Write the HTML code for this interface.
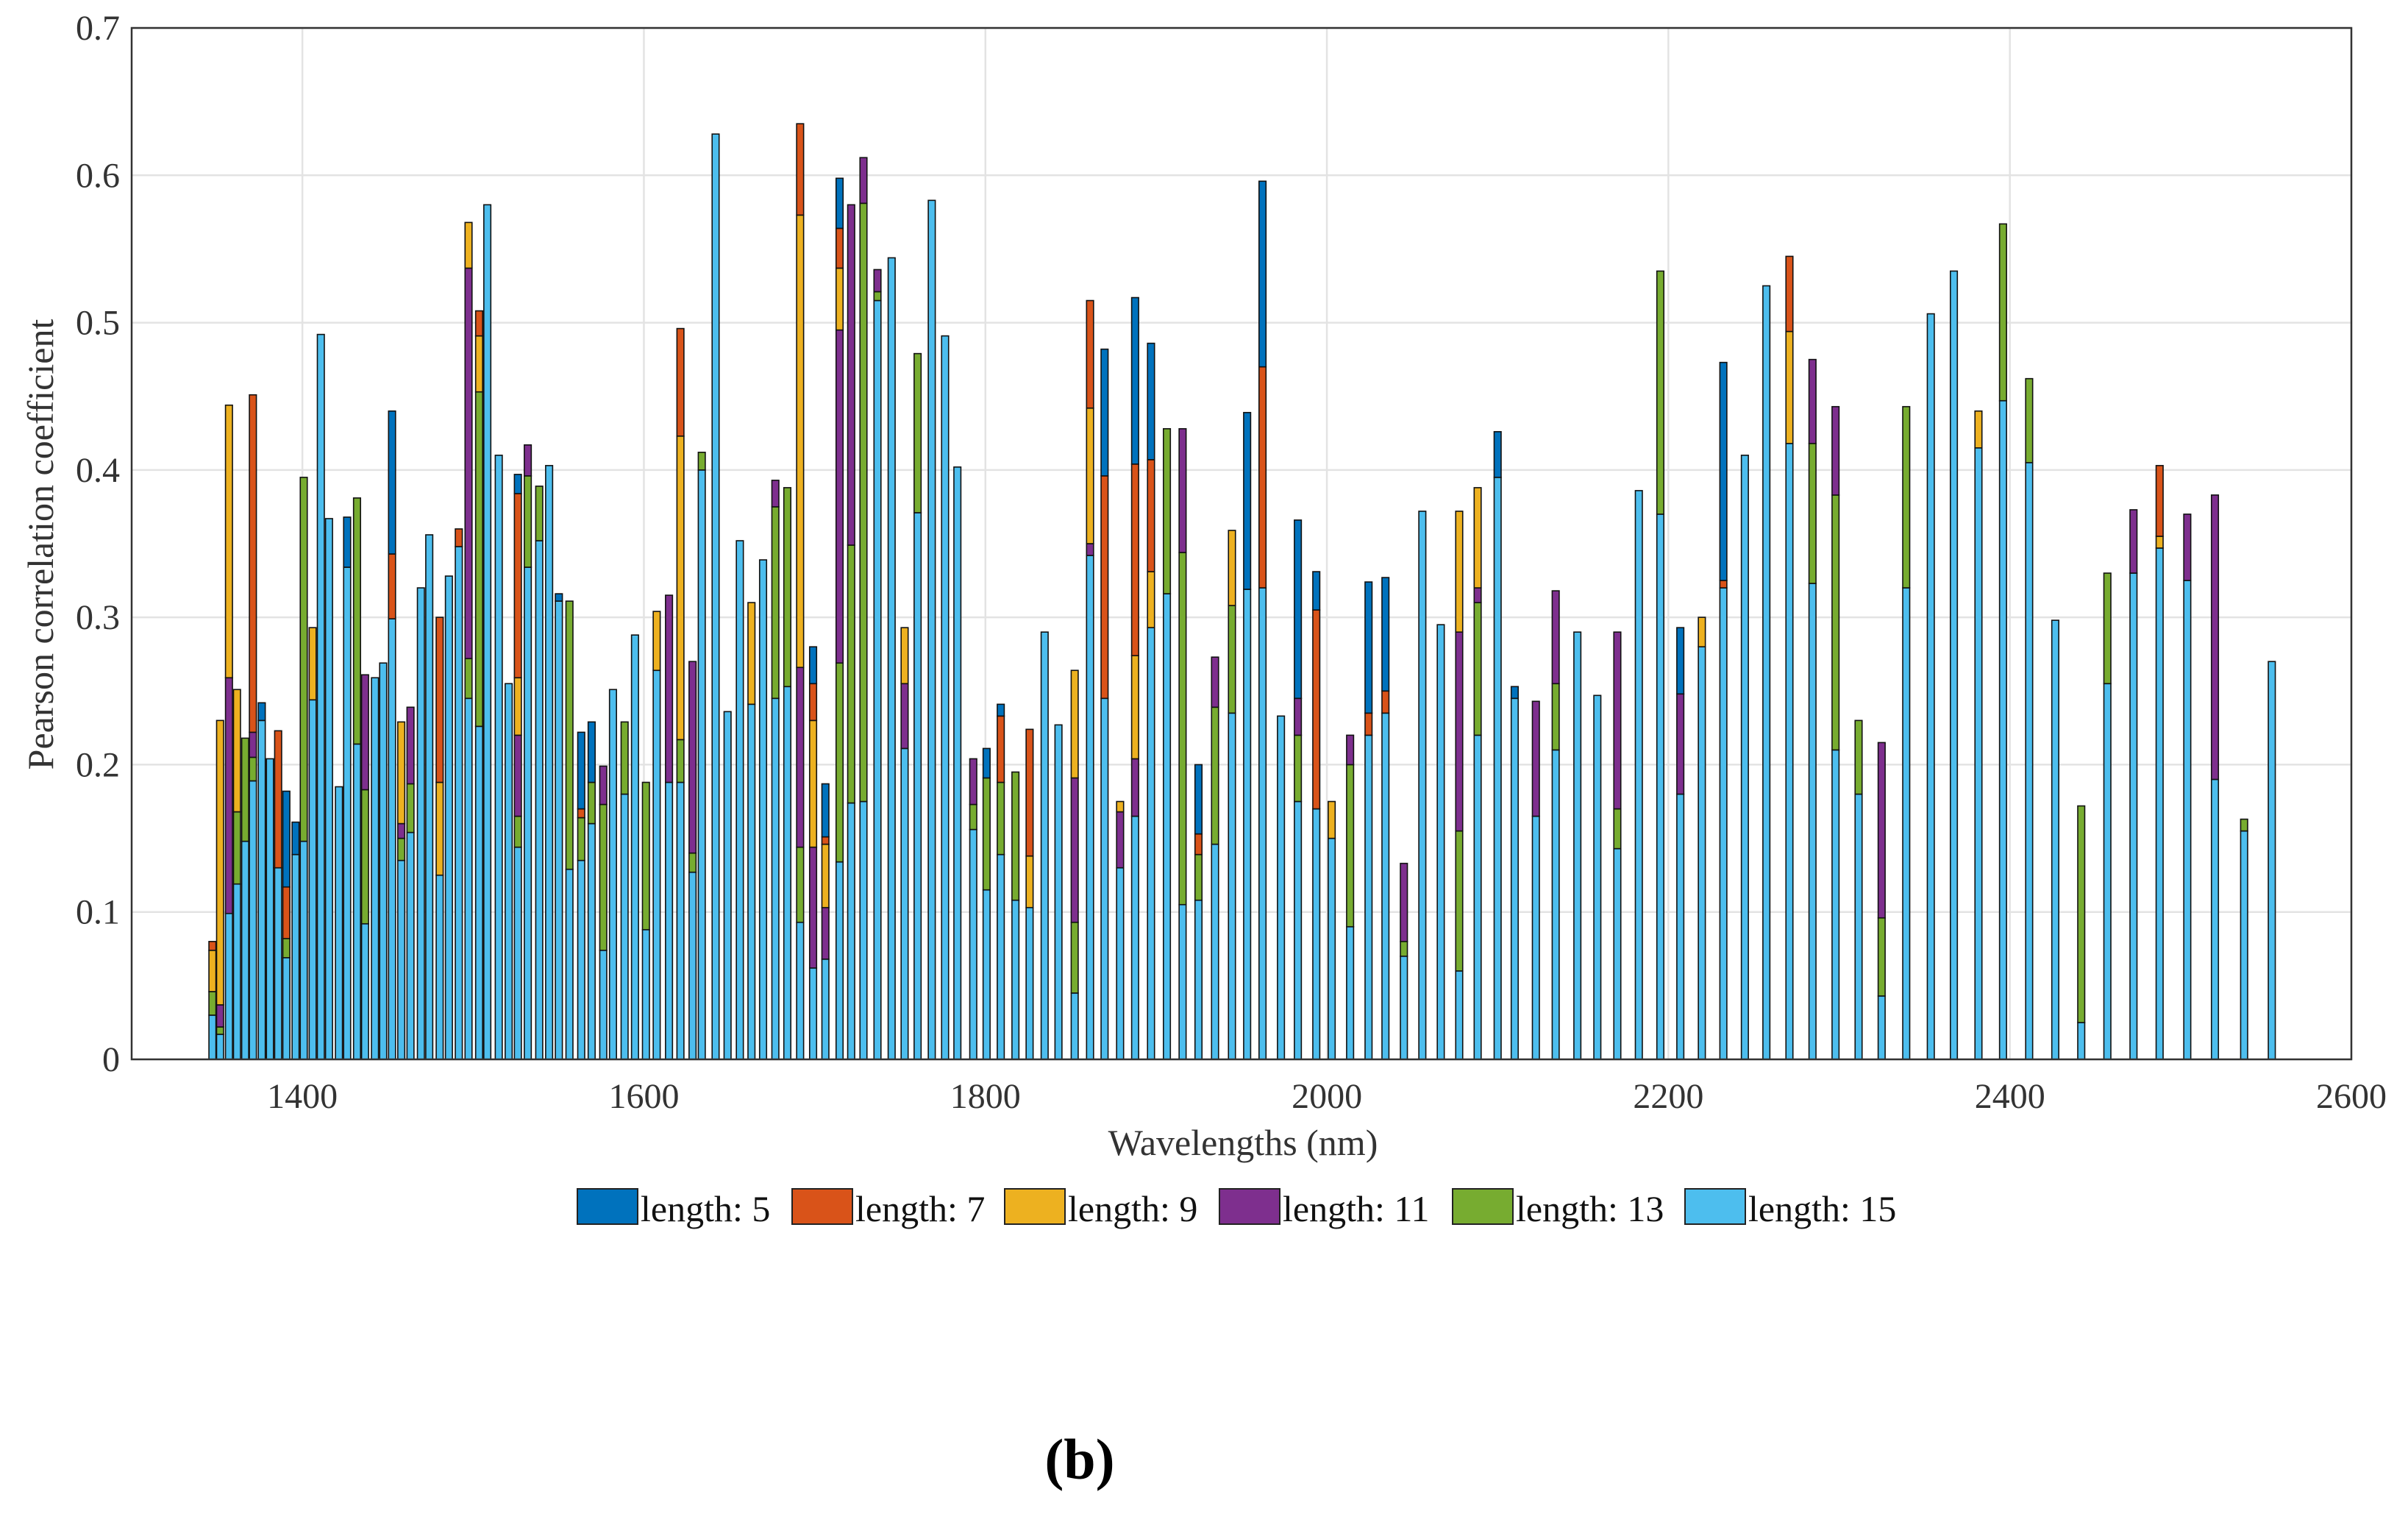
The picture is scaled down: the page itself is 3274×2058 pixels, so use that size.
<!DOCTYPE html>
<html><head><meta charset="utf-8"><style>
html,body{margin:0;padding:0;background:#fff;}
svg{display:block;font-family:"Liberation Serif",serif;}
</style></head><body>
<svg id="chart" width="3274" height="2058" viewBox="0 0 3274 2058" xmlns="http://www.w3.org/2000/svg">
<rect x="0" y="0" width="3274" height="2058" fill="#fff"/>
<g id="grid"></g>
<g id="bars"></g>
<rect x="179" y="38" width="3018" height="1402" fill="none" stroke="#333" stroke-width="2.5"/>
<g id="ticks"></g>
<text x="1690" y="1570" font-size="50" text-anchor="middle" fill="#333">Wavelengths (nm)</text>
<text x="0" y="0" font-size="50" text-anchor="middle" fill="#333" transform="translate(72,740) rotate(-90)">Pearson correlation coefficient</text>
<g id="legend"></g>
<text x="1468" y="2010" font-size="78" font-weight="bold" text-anchor="middle" fill="#000">(b)</text>
</svg>
<script>
const wavelengths = [1347.3,1351.8,1357.0,1361.7,1366.5,1371.0,1376.2,1381.0,1385.8,1390.6,1396.0,1400.8,1406.0,1410.8,1415.6,1421.4,1426.2,1432.0,1436.7,1442.5,1447.3,1452.5,1457.9,1463.3,1469.4,1474.3,1480.4,1485.8,1491.6,1497.3,1503.5,1508.3,1515.0,1520.8,1526.2,1532.0,1538.7,1544.5,1550.2,1556.4,1563.3,1569.4,1576.2,1581.9,1588.7,1594.8,1601.2,1607.5,1614.7,1621.4,1628.5,1633.9,
1642.0,1649.0,1656.2,1663.0,1669.8,1677.0,1684.0,1691.5,1699.1,1706.3,1714.6,1721.4,1728.6,1736.8,1745.1,1752.7,1760.3,1768.6,1776.4,1783.6,1792.9,1800.7,1809.0,1817.6,1825.9,1834.7,1842.8,1852.3,1861.3,1869.8,1878.9,1887.7,1897.0,1906.3,1915.5,1924.8,1934.5,1944.4,1953.3,
1962.3,1973.1,1983.0,1993.8,2002.8,2013.6,2024.4,2034.3,2045.1,2055.9,2066.7,2077.5,2088.3,2100.0,2110.0,2122.4,2134.0,2146.7,2158.4,2170.1,2182.7,2195.3,2207.0,2219.6,2232.2,2244.8,2257.4,2270.9,2284.4,2297.9,2311.4,2324.9,2339.3,2353.7,2367.2,2381.6,2396.0,2411.3,2426.6,2441.8,2457.1,2472.4,2487.7,2503.9,2520.1,2537.2,2553.4];
// top of each stacked segment (0 = segment absent)
const len15 = [.030,.017,.099,.119,.148,.189,.230,.204,.130,.069,.139,.148,.244,.492,.367,.185,.334,.214,.092,.259,.269,.299,.135,.154,.320,.356,.125,.328,.348,.245,.226,.580,.410,.255,.144,.334,.352,.403,.311,.129,.135,.160,.074,.251,.180,.288,.088,.264,.188,.188,.127,.400,
.628,.236,.352,.241,.339,.245,.253,.093,.062,.068,.134,.174,.175,.515,.544,.211,.371,.583,.491,.402,.156,.115,.139,.108,.103,.290,.227,.045,.342,.245,.130,.165,.293,.316,.105,.108,.146,.235,.319,
.320,.233,.175,.170,.150,.090,.220,.235,.070,.372,.295,.060,.220,.395,.245,.165,.210,.290,.247,.143,.386,.370,.180,.280,.320,.410,.525,.418,.323,.210,.180,.043,.320,.506,.535,.415,.447,.405,.298,.025,.255,.330,.347,.325,.190,.155,.270];
const len13 = [.046,.022,0,.168,.218,.205,0,0,0,.082,0,.395,0,0,0,0,0,.381,.183,0,0,0,.150,.187,0,0,0,0,0,.272,.453,0,0,0,.165,.396,.389,0,0,.311,.164,.188,.173,0,.229,0,.188,0,0,.217,.140,.412,
0,0,0,0,0,.375,.388,.144,0,0,.269,.349,.581,.521,0,0,.479,0,0,0,.173,.191,.188,.195,0,0,0,.093,0,0,0,0,0,.428,.344,.139,.239,.308,0,
0,0,.220,0,0,.200,0,0,.080,0,0,.155,.310,0,0,0,.255,0,0,.170,0,.535,0,0,0,0,0,0,.418,.383,.230,.096,.443,0,0,0,.567,.462,0,.172,.330,0,0,0,0,.163,0];
const len11 = [0,.037,.259,0,0,.222,0,0,0,0,0,0,0,0,0,0,0,0,.261,0,0,0,.160,.239,0,0,0,0,0,.537,0,0,0,0,.220,.417,0,0,0,0,0,0,.199,0,0,0,0,0,.315,0,.270,0,
0,0,0,0,0,.393,0,.266,.144,.103,.495,.580,.612,.536,0,.255,0,0,0,0,.204,0,0,0,0,0,0,.191,.350,0,.168,.204,0,0,.428,0,.273,0,0,
0,0,.245,0,0,.220,0,0,.133,0,0,.290,.320,0,0,.243,.318,0,0,.290,0,0,.248,0,0,0,0,0,.475,.443,0,.215,0,0,0,0,0,0,0,0,0,.373,0,.370,.383,0,0];
const len9 = [.074,.230,.444,.251,0,0,0,0,0,0,0,0,.293,0,0,0,0,0,0,0,0,0,.229,0,0,0,.188,0,0,.568,.491,0,0,0,.259,0,0,0,0,0,0,0,0,0,0,0,0,.304,0,.423,0,0,
0,0,0,.310,0,0,0,.573,.230,.146,.537,0,0,0,0,.293,0,0,0,0,0,0,0,0,.138,0,0,.264,.442,0,.175,.274,.331,0,0,0,0,.359,0,
0,0,0,0,.175,0,0,0,0,0,0,.372,.388,0,0,0,0,0,0,0,0,0,0,.300,0,0,0,.494,0,0,0,0,0,0,0,.440,0,0,0,0,0,0,.355,0,0,0,0];
const len7 = [.080,0,0,0,0,.451,0,0,.223,.117,0,0,0,0,0,0,0,0,0,0,0,.343,0,0,0,0,.300,0,.360,0,.508,0,0,0,.384,0,0,0,0,0,.170,0,0,0,0,0,0,0,0,.496,0,0,
0,0,0,0,0,0,0,.635,.255,.151,.564,0,0,0,0,0,0,0,0,0,0,0,.233,0,.224,0,0,0,.515,.396,0,.404,.407,0,0,.153,0,0,0,
.470,0,0,.305,0,0,.235,.250,0,0,0,0,0,0,0,0,0,0,0,0,0,0,0,0,.325,0,0,.545,0,0,0,0,0,0,0,0,0,0,0,0,0,0,.403,0,0,0,0];
const len5 = [0,0,0,0,0,0,.242,0,0,.182,.161,0,0,0,0,0,.368,0,0,0,0,.440,0,0,0,0,0,0,0,0,0,0,0,0,.397,0,0,0,.316,0,.222,.229,0,0,0,0,0,0,0,0,0,0,
0,0,0,0,0,0,0,0,.280,.187,.598,0,0,0,0,0,0,0,0,0,0,.211,.241,0,0,0,0,0,0,.482,0,.517,.486,0,0,.200,0,0,.439,
.596,0,.366,.331,0,0,.324,.327,0,0,0,0,0,.426,.253,0,0,0,0,0,0,0,.293,0,.473,0,0,0,0,0,0,0,0,0,0,0,0,0,0,0,0,0,0,0,0,0,0];
const yTicks = [0,0.1,0.2,0.3,0.4,0.5,0.6,0.7];
const yTickLabels = ["0","0.1","0.2","0.3","0.4","0.5","0.6","0.7"];
const xTicks = [1400,1600,1800,2000,2200,2400,2600];
const xTickLabels = ["1400","1600","1800","2000","2200","2400","2600"];
const legendLabels = ["length: 5","length: 7","length: 9","length: 11","length: 13","length: 15"];

const NS="http://www.w3.org/2000/svg";
const X0=179, X1=3197, Y0=1440, Y1=38, XMIN=1300, XMAX=2600, YMAX=0.7;
function xs(v){return X0+(v-XMIN)/(XMAX-XMIN)*(X1-X0);}
function ys(v){return Y0-v/YMAX*(Y0-Y1);}
function mk(tag,attrs,parent){const e=document.createElementNS(NS,tag);for(const k in attrs)e.setAttribute(k,attrs[k]);parent.appendChild(e);return e;}
const grid=document.getElementById('grid'), ticks=document.getElementById('ticks'), bars=document.getElementById('bars'), legend=document.getElementById('legend');
yTicks.forEach((t,i)=>{
  const l=mk('line',{x1:X0,x2:X1,y1:ys(t),y2:ys(t),stroke:'#e3e3e3','stroke-width':2.5},grid);
  
  
  const tl=mk('text',{x:163,y:ys(t)+16,'font-size':48,'text-anchor':'end',fill:'#333'},ticks);
  tl.textContent=yTickLabels[i];
  
  
});
xTicks.forEach((t,i)=>{
  const l=mk('line',{x1:xs(t),x2:xs(t),y1:Y1,y2:Y0,stroke:'#e3e3e3','stroke-width':2.5},grid);
  
  
  const tl=mk('text',{x:xs(t),y:1506,'font-size':48,'text-anchor':'middle',fill:'#333'},ticks);
  tl.textContent=xTickLabels[i];
  
  
});
const series=[len15,len13,len11,len9,len7,len5];
const colors=['#4DBEEE','#77AC30','#7E2F8E','#EDB120','#D95319','#0072BD'];
const names=['length-15','length-13','length-11','length-9','length-7','length-5'];
const BW=9.5;
wavelengths.forEach((w,i)=>{
  let prev=0;
  series.forEach((s,k)=>{
    const v=s[i];
    if(v>prev){
      const r=mk('rect',{x:xs(w)-BW/2,y:ys(v),width:BW,height:ys(prev)-ys(v),fill:colors[k],stroke:'#111','stroke-width':1.6},bars);
      
      
      prev=v;
    }
  });
});
const lx=[785,1077,1366,1658,1975,2291];
const lc=['#0072BD','#D95319','#EDB120','#7E2F8E','#77AC30','#4DBEEE'];
legendLabels.forEach((t,i)=>{
  const g=mk('g',{},legend);
  
  
  const r=mk('rect',{x:lx[i],y:1616,width:82,height:48,fill:lc[i],stroke:'#222','stroke-width':2},g);
  
  
  const tx=mk('text',{x:lx[i]+86,y:1660,'font-size':50,fill:'#111'},g);
  tx.textContent=t;
  
  
});
</script>
</body></html>
